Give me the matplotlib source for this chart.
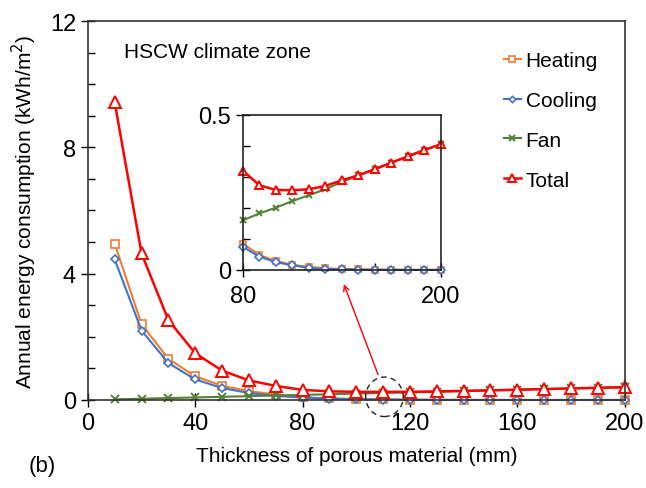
import matplotlib
matplotlib.use("Agg")
import matplotlib.pyplot as plt
from matplotlib.patches import Ellipse
from matplotlib.ticker import MultipleLocator, FixedLocator

plt.rcParams['font.family'] = ['Liberation Sans', 'DejaVu Sans']

thickness = [10, 20, 30, 40, 50, 60, 70, 80, 90, 100, 110, 120, 130, 140, 150, 160, 170, 180, 190, 200]
heating = [4.95, 2.4, 1.3, 0.75, 0.45, 0.28, 0.17, 0.085, 0.048, 0.029, 0.016, 0.010, 0.005, 0.003, 0.002, 0.001, 0.001, 0.0, 0.0, 0.0]
cooling = [4.45, 2.2, 1.17, 0.65, 0.38, 0.22, 0.13, 0.074, 0.043, 0.025, 0.015, 0.006, 0.003, 0.002, 0.001, 0.0, 0.0, 0.0, 0.0, 0.0]
fan = [0.02, 0.04, 0.06, 0.08, 0.10, 0.12, 0.145, 0.16, 0.182, 0.201, 0.222, 0.241, 0.26, 0.284, 0.305, 0.325, 0.346, 0.366, 0.387, 0.405]
total = [9.42, 4.64, 2.53, 1.48, 0.93, 0.62, 0.445, 0.32, 0.273, 0.258, 0.257, 0.26, 0.271, 0.289, 0.305, 0.325, 0.346, 0.366, 0.387, 0.405]

C_HEAT = '#ED7D31'
C_COOL = '#4472C4'
C_FAN = '#548235'
C_TOT = '#FF0000'

fig = plt.figure(figsize=(6.46, 4.89), dpi=100)
ax = fig.add_axes([0.136, 0.180, 0.831, 0.775])


def draw_series(a, x, small=False):
    s = 0.8 if small else 1.0
    kw = dict(clip_on=False)
    a.plot(x, heating[-len(x):], color=C_HEAT, marker='s', ms=6 * s, mfc='white', mew=1.2, lw=1.5, label='Heating', **kw)
    a.plot(x, cooling[-len(x):], color=C_COOL, marker='D', ms=4.5 * s, mfc='white', mew=1.2, lw=1.5, label='Cooling', **kw)
    a.plot(x, fan[-len(x):], color=C_FAN, marker='x', ms=5.5 * s, mew=1.4, lw=1.5, label='Fan', **kw)
    a.plot(x, total[-len(x):], color=C_TOT, marker='^', ms=8 * s, mfc='white', mew=1.4, lw=1.8, label='Total', **kw)


draw_series(ax, thickness)
ax.set_xlim(0, 200)
ax.set_ylim(0, 12)
ax.xaxis.set_major_locator(MultipleLocator(40))
ax.yaxis.set_major_locator(MultipleLocator(4))
ax.yaxis.set_minor_locator(MultipleLocator(1))
ax.tick_params(axis='both', which='major', direction='inout', length=10, width=1, labelsize=17)
ax.tick_params(axis='y', which='minor', direction='in', length=5, width=1)
ax.tick_params(axis='x', pad=4)
for sp in ax.spines.values():
    sp.set_linewidth(1.2)
    sp.set_color('#333333')

ax.set_xlabel('Thickness of porous material (mm)', fontsize=15, labelpad=8)
ax.set_ylabel('Annual energy consumption (kWh/m$^2$)', fontsize=15, labelpad=8)
ax.text(0.068, 0.905, 'HSCW climate zone', transform=ax.transAxes, fontsize=15)
fig.text(0.045, 0.035, '(b)', fontsize=16)

leg = ax.legend(loc='upper left', bbox_to_anchor=(0.74, 0.97), frameon=False, fontsize=15,
                handlelength=0.8, handletextpad=0.25, labelspacing=1.0, markerscale=0.7)

# dashed circle and arrow to the inset
circ = Ellipse((110.5, 0.1), width=14, height=1.25, fill=False, ls=(0, (4, 3)), lw=1.0,
               color='#222222', clip_on=False, zorder=5)
ax.add_patch(circ)
ax.annotate('', xy=(95, 3.75), xytext=(108.5, 0.72),
            arrowprops=dict(arrowstyle='->', color=C_TOT, lw=1.0))

# inset
ins = fig.add_axes([0.376, 0.446, 0.3065, 0.317])
draw_series(ins, thickness[7:], small=True)
ins.set_xlim(80, 200)
ins.set_ylim(0, 0.5)
ins.xaxis.set_major_locator(FixedLocator([80, 200]))
ins.xaxis.set_minor_locator(FixedLocator([120, 160]))
ins.yaxis.set_major_locator(FixedLocator([0, 0.5]))
ins.yaxis.set_minor_locator(MultipleLocator(0.1))
ins.set_yticklabels(['0', '0.5'])
ins.tick_params(axis='both', which='major', direction='inout', length=10, width=1, labelsize=17)
ins.tick_params(axis='both', which='minor', direction='in', length=5, width=1)
ins.tick_params(axis='x', pad=6)
for sp in ins.spines.values():
    sp.set_linewidth(1.2)
    sp.set_color('#222222')

fig.savefig('out.png', dpi=100)
